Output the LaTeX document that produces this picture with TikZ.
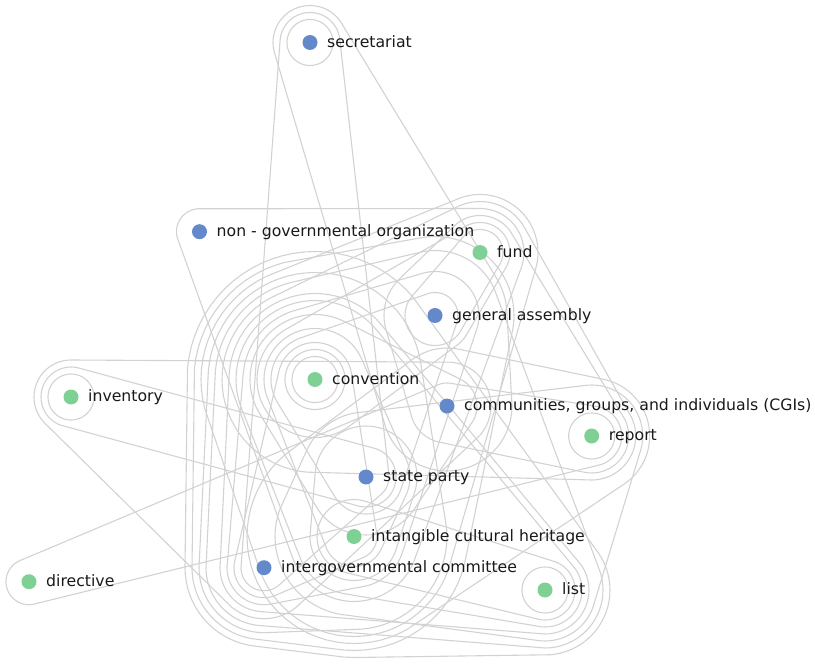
\documentclass[tikz,border=0pt]{standalone}
\usepackage{fontspec}
\setmainfont{DejaVu Sans}
\definecolor{nblue}{RGB}{100,137,203}
\definecolor{ngreen}{RGB}{127,208,148}
\definecolor{hgray}{RGB}{210,210,210}
\def\rbase{16}\def\rstep{7}
\newcommand\defnode[3]{%
  \expandafter\gdef\csname hx.#1\endcsname{#2}%
  \expandafter\gdef\csname hy.#1\endcsname{#3}%
  \expandafter\gdef\csname hl.#1\endcsname{0}%
}
\newcommand\hedge[1]{%
  \foreach \n in {#1}{%
    \pgfmathtruncatemacro\lv{\csname hl.\n\endcsname+1}%
    \expandafter\xdef\csname hl.\n\endcsname{\lv}%
  }%
  \gdef\hpath{}%
  \foreach \a in {0,5,...,355}{%
    \gdef\hbest{-9000}%
    \foreach \n in {#1}{%
      \pgfmathsetmacro\hr{\rbase+\rstep*\csname hl.\n\endcsname}%
      \pgfmathsetmacro\hs{\csname hx.\n\endcsname*cos(\a)+\csname hy.\n\endcsname*sin(\a)+\hr}%
      \ifdim\hs pt>\hbest pt
        \pgfmathsetmacro\hpx{\csname hx.\n\endcsname+\hr*cos(\a)}%
        \pgfmathsetmacro\hpy{\csname hy.\n\endcsname+\hr*sin(\a)}%
        \xdef\hbest{\hs}\xdef\hbx{\hpx}\xdef\hby{\hpy}%
      \fi
    }%
    \xdef\hpath{\hpath(\hbx,\hby)--}%
  }%
  \edef\htmp{\noexpand\draw[hedge]\hpath cycle;}\htmp
}
\defnode{sec}{310}{42.5}
\defnode{ngo}{199.5}{231.7}
\defnode{fund}{480}{252.5}
\defnode{ga}{435}{315.5}
\defnode{conv}{315}{379.5}
\defnode{inv}{71}{397}
\defnode{cgi}{447}{406}
\defnode{rep}{591.7}{436}
\defnode{sp}{366}{477}
\defnode{ich}{354}{536.5}
\defnode{igc}{264}{567.7}
\defnode{list}{545}{590}
\defnode{dir}{29}{581.7}
\begin{document}
\begin{tikzpicture}[x=1pt,y=-1pt,
  hedge/.style={draw=hgray,line width=1.1pt,line join=round},
  dotb/.style={circle,fill=nblue,inner sep=0pt,minimum size=15pt},
  dotg/.style={circle,fill=ngreen,inner sep=0pt,minimum size=15pt},
  lab/.style={anchor=west,inner sep=0pt,text height=0.76em,text depth=0.24em,font=\fontsize{15.7}{18}\selectfont,text=black!90}]
\useasboundingbox (0,0) rectangle (815,666);
\hedge{sec}
\hedge{inv}
\hedge{rep}
\hedge{list}
\hedge{conv}
\hedge{conv}
\hedge{sec,sp,igc}
\hedge{conv,igc,ich}
\hedge{inv,sp}
\hedge{dir,cgi,rep}
\hedge{conv,ga,sp}
\hedge{fund,ga}
\hedge{conv,sp,ich}
\hedge{conv,fund,ga}
\hedge{ich,list}
\hedge{sp,ich}
\hedge{conv,cgi,sp}
\hedge{conv,ga,ich,igc}
\hedge{fund,ga,cgi,rep}
\hedge{conv,ich,list}
\hedge{ngo,fund,ga,ich}
\hedge{conv,igc,list,ich}
\hedge{inv,cgi,igc}
\hedge{conv,fund,cgi,rep}
\hedge{rep,list,ich,sp}
\hedge{conv,ga,igc,ich,list}
\hedge{conv,sp,ich,igc}
\hedge{conv,fund,ich}
\hedge{ich,rep,cgi}
\hedge{sec,ga,cgi}
\hedge{conv,ga,sp,ich,igc}
\hedge{conv,ich,igc,list}
\node[dotb] (sec) at (310,42.5) {};
\node[dotb] (ngo) at (199.5,231.7) {};
\node[dotg] (fund) at (480,252.5) {};
\node[dotb] (ga) at (435,315.5) {};
\node[dotg] (conv) at (315,379.5) {};
\node[dotg] (inv) at (71,397) {};
\node[dotb] (cgi) at (447,406) {};
\node[dotg] (rep) at (591.7,436) {};
\node[dotb] (sp) at (366,477) {};
\node[dotg] (ich) at (354,536.5) {};
\node[dotb] (igc) at (264,567.7) {};
\node[dotg] (list) at (545,590) {};
\node[dotg] (dir) at (29,581.7) {};
\begin{scope}[every node/.append style={yshift=-2pt}]
\node[lab] (sec-l) at ([xshift=17pt]sec.center) {secretariat};
\node[lab] (ngo-l) at ([xshift=17pt]ngo.center) {non - governmental organization};
\node[lab] (fund-l) at ([xshift=17pt]fund.center) {fund};
\node[lab] (ga-l) at ([xshift=17pt]ga.center) {general assembly};
\node[lab] (conv-l) at ([xshift=17pt]conv.center) {convention};
\node[lab] (inv-l) at ([xshift=17pt]inv.center) {inventory};
\node[lab] (cgi-l) at ([xshift=17pt]cgi.center) {communities, groups, and individuals (CGIs)};
\node[lab] (rep-l) at ([xshift=17pt]rep.center) {report};
\node[lab] (sp-l) at ([xshift=17pt]sp.center) {state party};
\node[lab] (ich-l) at ([xshift=17pt]ich.center) {intangible cultural heritage};
\node[lab] (igc-l) at ([xshift=17pt]igc.center) {intergovernmental committee};
\node[lab] (list-l) at ([xshift=17pt]list.center) {list};
\node[lab] (dir-l) at ([xshift=17pt]dir.center) {directive};
\end{scope}
\end{tikzpicture}
\end{document}
